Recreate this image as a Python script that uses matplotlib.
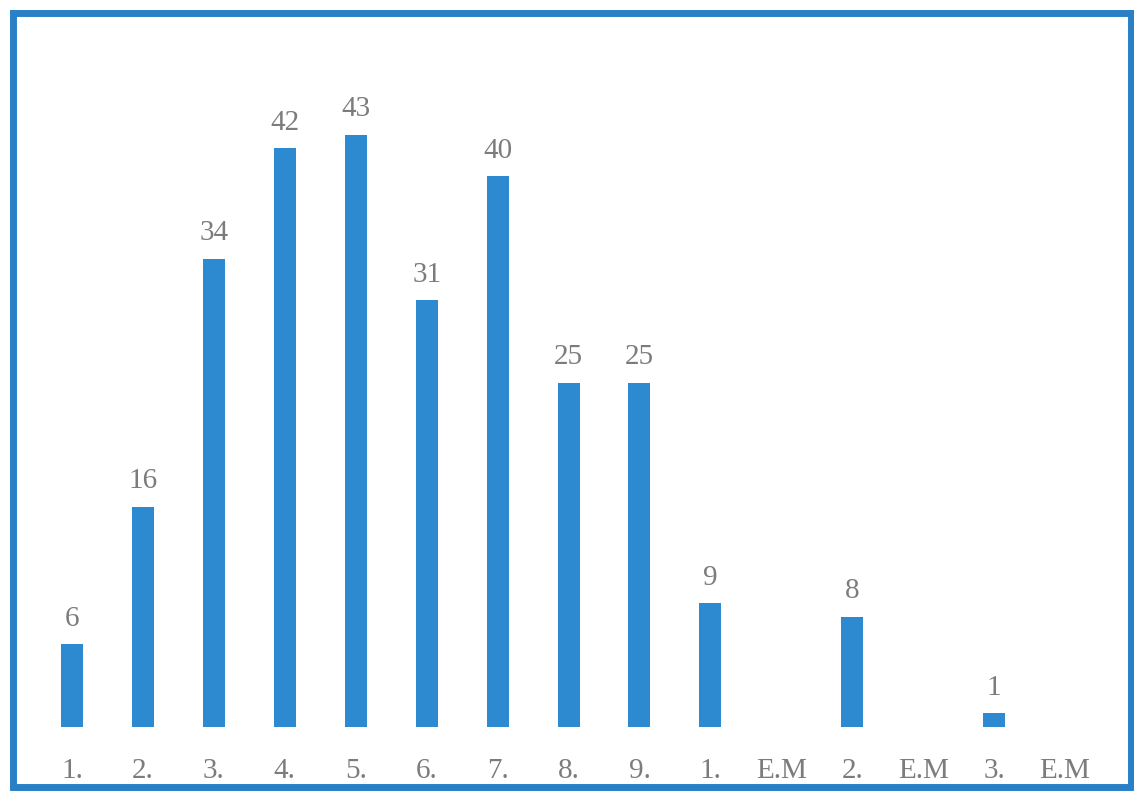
import matplotlib.pyplot as plt
from matplotlib.patches import Rectangle

labels = ['1.', '2.', '3.', '4.', '5.', '6.', '7.', '8.', '9.',
          '1.', 'E.M', '2.', 'E.M', '3.', 'E.M']
values = [6, 16, 34, 42, 43, 31, 40, 25, 25, 9, 0, 8, 0, 1, 0]

bar_color = '#2d8ad0'
text_color = '#7c7c7c'

plt.rcParams['font.family'] = ['Liberation Serif', 'DejaVu Serif']

fig = plt.figure(figsize=(11.34, 8.01), dpi=100)
ax = fig.add_axes([0.0322, 0.0924, 0.9383, 0.791])

x = list(range(len(labels)))
bars = ax.bar(x, values, width=0.31, color=bar_color)

for xi, v in zip(x, values):
    if v > 0:
        ax.annotate(str(v), (xi, v), xytext=(0, 9), textcoords='offset points',
                    ha='center', va='bottom', fontsize=21, color=text_color)

ax.set_xlim(-0.5, len(labels) - 0.5)
ax.set_ylim(0, 46)
ax.set_xticks(x)
ax.set_xticklabels(labels, fontsize=21, color=text_color)
ax.tick_params(axis='x', length=0, pad=22)
ax.set_yticks([])
for s in ax.spines.values():
    s.set_visible(False)

# blue frame round the whole chart
fig.patches.append(Rectangle((0.0115, 0.018), 0.9855, 0.966, transform=fig.transFigure,
                             fill=False, edgecolor='#2a80c6', linewidth=5))

fig.savefig('out.png', dpi=100, facecolor='white')
